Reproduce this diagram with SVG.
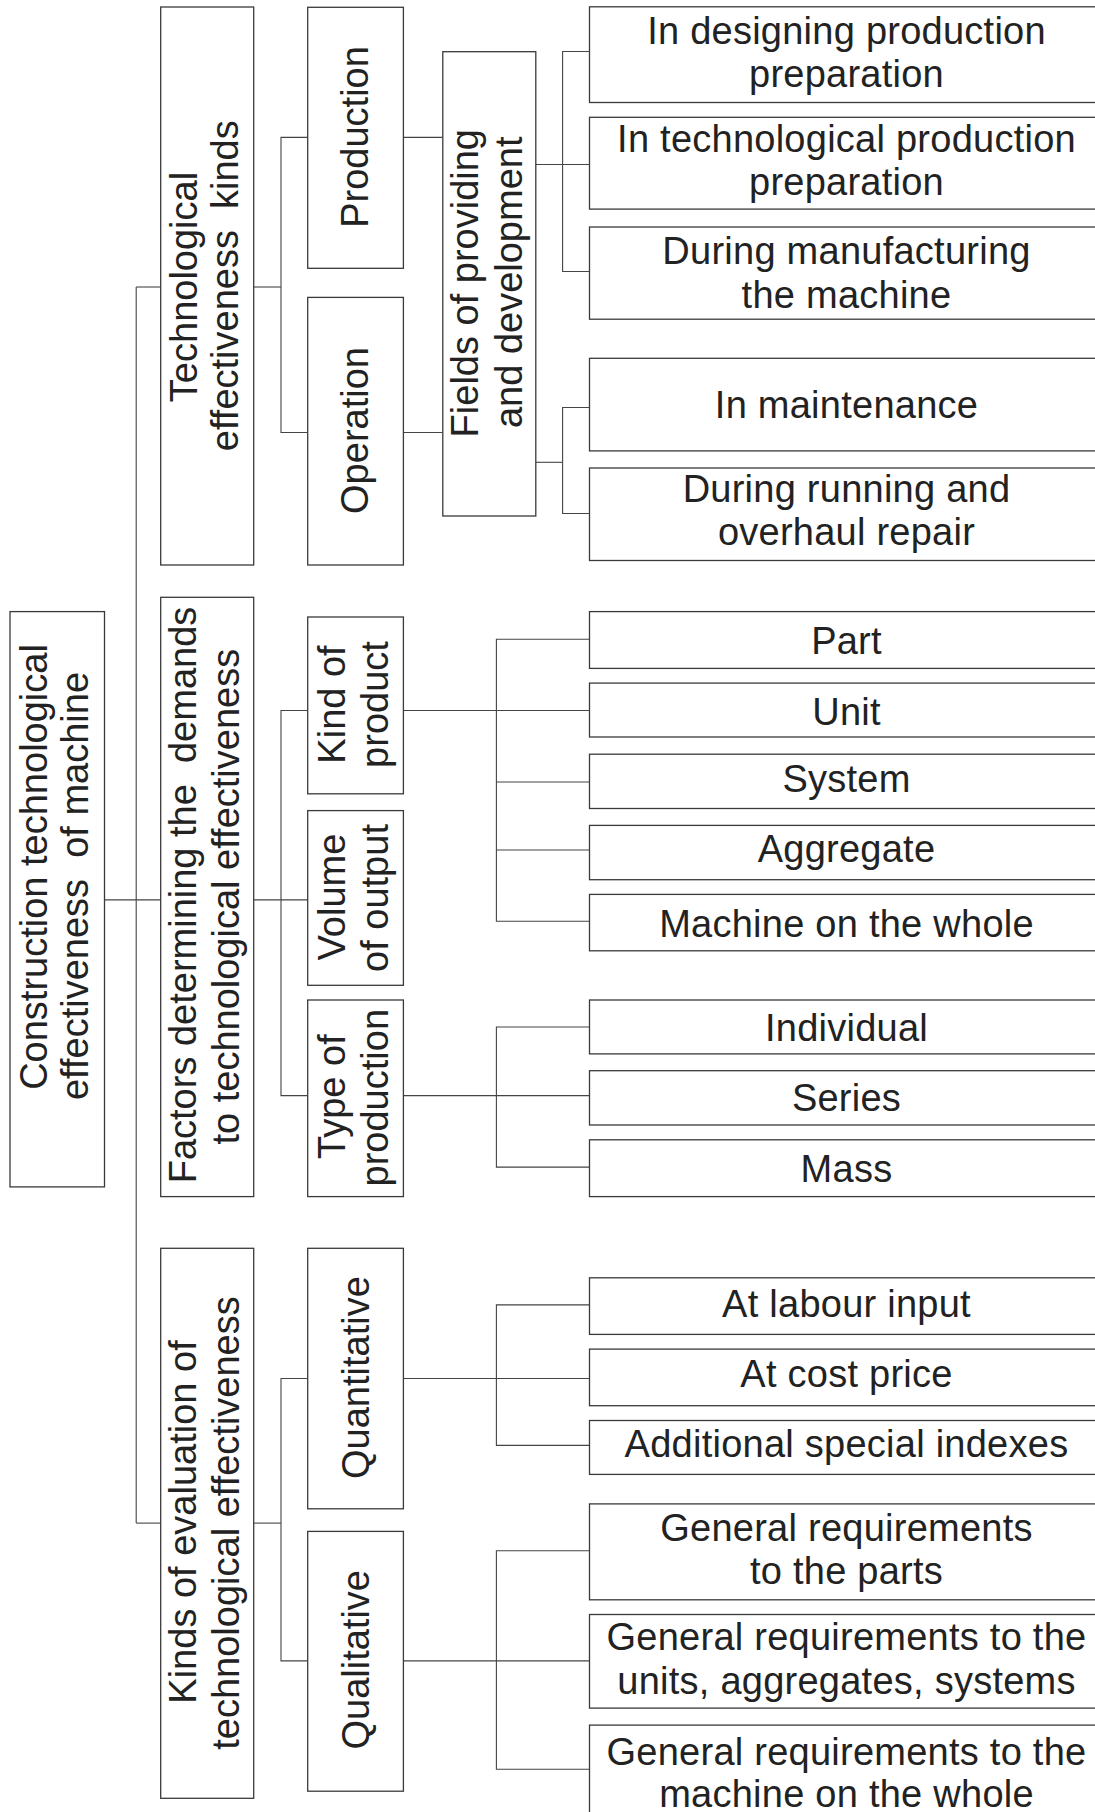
<svg xmlns="http://www.w3.org/2000/svg" width="1095" height="1812" viewBox="0 0 1095 1812">
<style>
  rect { fill: #ffffff; stroke: #3a3a3a; stroke-width: 1.3; }
  .c line, .c polyline { stroke: #444; stroke-width: 1.1; fill: none; }
  text { font-family: "Liberation Sans", Arial, sans-serif; fill: #222; text-anchor: middle; }
  .f38 { font-size: 38px; }
  .lf { font-size: 38px; letter-spacing: 0.25px; }
</style>
<rect x="0" y="0" width="1095" height="1812" style="fill:#fff;stroke:none"/>

<g class="c" id="connectors">
  <!-- main trunk -->
  <line x1="136.2" y1="287" x2="136.2" y2="1523.1"/>
  <line x1="104.5" y1="899.9" x2="160.7" y2="899.9"/>
  <line x1="136.2" y1="287" x2="160.7" y2="287"/>
  <line x1="136.2" y1="1523.1" x2="160.7" y2="1523.1"/>
  <!-- Tech kinds -> Production / Operation -->
  <line x1="253.7" y1="287" x2="281" y2="287"/>
  <polyline points="307.7,137.4 281,137.4 281,432.5 307.7,432.5"/>
  <!-- Factors -> Kind / Volume / Type -->
  <line x1="253.7" y1="899.9" x2="307.7" y2="899.9"/>
  <polyline points="307.7,710.5 281,710.5 281,1095.6 307.7,1095.6"/>
  <!-- Kinds of evaluation -> Quant / Qual -->
  <line x1="253.7" y1="1523.1" x2="281" y2="1523.1"/>
  <polyline points="307.7,1378.5 281,1378.5 281,1660.9 307.7,1660.9"/>
  <!-- Production / Operation -> Fields -->
  <line x1="403.4" y1="137.4" x2="442.8" y2="137.4"/>
  <line x1="403.4" y1="432.5" x2="442.8" y2="432.5"/>
  <!-- Fields -> upper leaves -->
  <line x1="535.8" y1="164.5" x2="589.5" y2="164.5"/>
  <polyline points="589.5,51.5 562.6,51.5 562.6,271.5 589.5,271.5"/>
  <!-- Fields -> lower leaves -->
  <line x1="535.8" y1="462.3" x2="562.6" y2="462.3"/>
  <polyline points="589.5,407.5 562.6,407.5 562.6,513.5 589.5,513.5"/>
  <!-- Kind of product -> leaves -->
  <line x1="403.4" y1="710.5" x2="589.5" y2="710.5"/>
  <polyline points="589.5,639.3 496.4,639.3 496.4,921.3 589.5,921.3"/>
  <line x1="496.4" y1="782" x2="589.5" y2="782"/>
  <line x1="496.4" y1="850" x2="589.5" y2="850"/>
  <!-- Type of production -> leaves -->
  <line x1="403.4" y1="1095.6" x2="589.5" y2="1095.6"/>
  <polyline points="589.5,1027 496.4,1027 496.4,1167.1 589.5,1167.1"/>
  <!-- Quantitative -> leaves -->
  <line x1="403.4" y1="1378.5" x2="589.5" y2="1378.5"/>
  <polyline points="589.5,1304.9 496.4,1304.9 496.4,1445.4 589.5,1445.4"/>
  <!-- Qualitative -> leaves -->
  <line x1="403.4" y1="1660.9" x2="589.5" y2="1660.9"/>
  <polyline points="589.5,1550.7 496.4,1550.7 496.4,1769.3 589.5,1769.3"/>
</g>

<g id="root">
  <rect x="10" y="611.6" width="94.5" height="575.3"/>
  <text class="f38" transform="translate(46.7,867) rotate(-90)">Construction technological</text>
  <text class="f38" transform="translate(88.3,886) rotate(-90)" xml:space="preserve">effectiveness  of machine</text>
</g>

<g id="tech-kinds">
  <rect x="160.7" y="7" width="93" height="558"/>
  <text class="f38" transform="translate(196.5,287) rotate(-90)">Technological</text>
  <text class="f38" transform="translate(238.3,285.7) rotate(-90)" xml:space="preserve">effectiveness  kinds</text>
</g>

<g id="factors">
  <rect x="160.7" y="597.3" width="93" height="599.3"/>
  <text class="f38" transform="translate(195.5,895) rotate(-90)" xml:space="preserve">Factors determining the  demands</text>
  <text class="f38" transform="translate(239,896.7) rotate(-90)">to technological effectiveness</text>
</g>

<g id="kinds-evaluation">
  <rect x="160.7" y="1248.3" width="93" height="550"/>
  <text class="f38" transform="translate(195.5,1522) rotate(-90)">Kinds of evaluation of</text>
  <text class="f38" transform="translate(239.2,1523) rotate(-90)">technological effectiveness</text>
</g>

<g id="production">
  <rect x="307.7" y="7.3" width="95.7" height="261"/>
  <text class="f38" transform="translate(368.3,137) rotate(-90)">Production</text>
</g>

<g id="operation">
  <rect x="307.7" y="297.4" width="95.7" height="267.6"/>
  <text class="f38" transform="translate(367.6,430.5) rotate(-90)">Operation</text>
</g>

<g id="kind-of-product">
  <rect x="307.7" y="617" width="95.7" height="176.8"/>
  <text class="f38" transform="translate(344.5,704.5) rotate(-90)">Kind of</text>
  <text class="f38" transform="translate(388,704.5) rotate(-90)">product</text>
</g>

<g id="volume-of-output">
  <rect x="307.7" y="810.6" width="95.7" height="174.7"/>
  <text class="f38" transform="translate(344.5,897) rotate(-90)">Volume</text>
  <text class="f38" transform="translate(388.3,898) rotate(-90)">of output</text>
</g>

<g id="type-of-production">
  <rect x="307.7" y="1000" width="95.7" height="196.6"/>
  <text class="f38" transform="translate(344.5,1096.6) rotate(-90)">Type of</text>
  <text class="f38" transform="translate(388,1097.7) rotate(-90)">production</text>
</g>

<g id="quantitative">
  <rect x="307.7" y="1248.3" width="95.7" height="260.5"/>
  <text class="f38" transform="translate(369.3,1377.6) rotate(-90)">Quantitative</text>
</g>

<g id="qualitative">
  <rect x="307.7" y="1531.4" width="95.7" height="259.8"/>
  <text class="f38" transform="translate(369,1659.8) rotate(-90)">Qualitative</text>
</g>

<g id="fields">
  <rect x="442.8" y="51.7" width="93" height="464.3"/>
  <text class="f38" transform="translate(478.4,283.2) rotate(-90)">Fields of providing</text>
  <text class="f38" transform="translate(522.4,282.3) rotate(-90)">and development</text>
</g>

<g id="leaf-designing">
  <rect x="589.5" y="6.8" width="515" height="95.7"/>
  <text class="lf" x="846.5" y="43.5">In designing production</text>
  <text class="lf" x="846.5" y="87">preparation</text>
</g>
<g id="leaf-technological">
  <rect x="589.5" y="117.3" width="515" height="91.8"/>
  <text class="lf" x="846.5" y="151.8">In technological production</text>
  <text class="lf" x="846.5" y="195.4">preparation</text>
</g>
<g id="leaf-manufacturing">
  <rect x="589.5" y="227" width="515" height="92.2"/>
  <text class="lf" x="846.5" y="263.5">During manufacturing</text>
  <text class="lf" x="846.5" y="307.8">the machine</text>
</g>
<g id="leaf-maintenance">
  <rect x="589.5" y="358.3" width="515" height="92.6"/>
  <text class="lf" x="846.5" y="417.5">In maintenance</text>
</g>
<g id="leaf-running">
  <rect x="589.5" y="468" width="515" height="92.5"/>
  <text class="lf" x="846.5" y="502">During running and</text>
  <text class="lf" x="846.5" y="545.4">overhaul repair</text>
</g>

<g id="leaf-part">
  <rect x="589.5" y="611.6" width="515" height="56.8"/>
  <text class="lf" x="846.5" y="654">Part</text>
</g>
<g id="leaf-unit">
  <rect x="589.5" y="683.1" width="515" height="53.9"/>
  <text class="lf" x="846.5" y="724.5">Unit</text>
</g>
<g id="leaf-system">
  <rect x="589.5" y="754.2" width="515" height="54.3"/>
  <text class="lf" x="846.5" y="791.5">System</text>
</g>
<g id="leaf-aggregate">
  <rect x="589.5" y="825.4" width="515" height="54.3"/>
  <text class="lf" x="846.5" y="862">Aggregate</text>
</g>
<g id="leaf-machine-whole">
  <rect x="589.5" y="894.4" width="515" height="56.4"/>
  <text class="lf" x="846.5" y="936.5">Machine on the whole</text>
</g>

<g id="leaf-individual">
  <rect x="589.5" y="1000" width="515" height="53.9"/>
  <text class="lf" x="846.5" y="1040.5">Individual</text>
</g>
<g id="leaf-series">
  <rect x="589.5" y="1070.7" width="515" height="54.3"/>
  <text class="lf" x="846.5" y="1111">Series</text>
</g>
<g id="leaf-mass">
  <rect x="589.5" y="1139.8" width="515" height="56.8"/>
  <text class="lf" x="846.5" y="1181.5">Mass</text>
</g>

<g id="leaf-labour">
  <rect x="589.5" y="1277.8" width="515" height="56.6"/>
  <text class="lf" x="846.5" y="1317.4">At labour input</text>
</g>
<g id="leaf-cost">
  <rect x="589.5" y="1349.1" width="515" height="56.6"/>
  <text class="lf" x="846.5" y="1386.9">At cost price</text>
</g>
<g id="leaf-additional">
  <rect x="589.5" y="1420.5" width="515" height="53.9"/>
  <text class="lf" x="846.5" y="1456.7">Additional special indexes</text>
</g>

<g id="leaf-gen-parts">
  <rect x="589.5" y="1503.9" width="515" height="95.9"/>
  <text class="lf" x="846.5" y="1540.9">General requirements</text>
  <text class="lf" x="846.5" y="1583.5">to the parts</text>
</g>
<g id="leaf-gen-units">
  <rect x="589.5" y="1614.5" width="515" height="93.6"/>
  <text class="lf" x="846.5" y="1650.3">General requirements to the</text>
  <text class="lf" x="846.5" y="1693.8">units, aggregates, systems</text>
</g>
<g id="leaf-gen-machine">
  <rect x="589.5" y="1725.1" width="515" height="110"/>
  <text class="lf" x="846.5" y="1764.5">General requirements to the</text>
  <text class="lf" x="846.5" y="1806.5">machine on the whole</text>
</g>
</svg>
